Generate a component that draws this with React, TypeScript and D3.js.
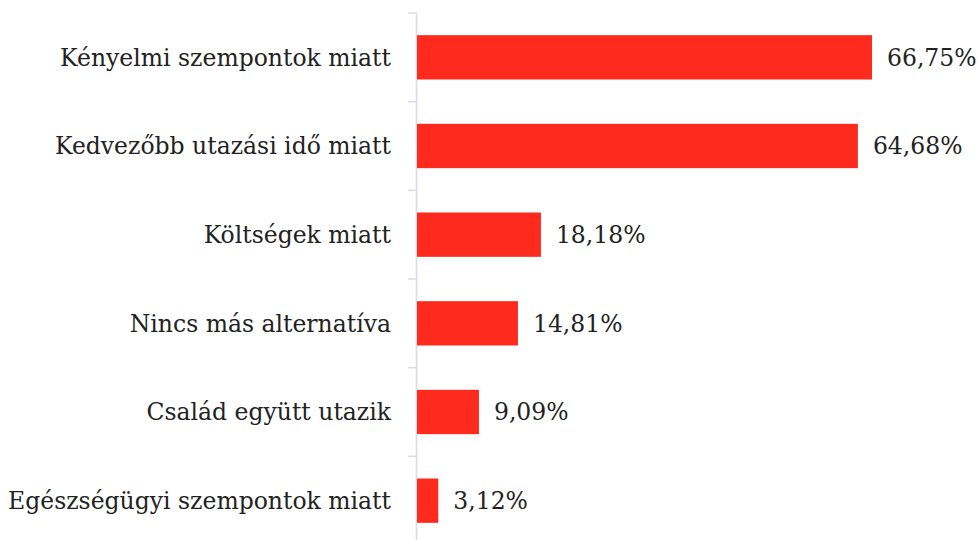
import * as d3 from "d3";
import { useEffect, useRef } from "react";

const categories = [
  "Kényelmi szempontok miatt",
  "Kedvezőbb utazási idő miatt",
  "Költségek miatt",
  "Nincs más alternatíva",
  "Család együtt utazik",
  "Egészségügyi szempontok miatt",
];
const values = [66.75, 64.68, 18.18, 14.81, 9.09, 3.12];

const App = () => {
  const svgRef = useRef<SVGSVGElement>(null);

  useEffect(() => {
    const width = 979;
    const height = 540;
    const left = 417;
    const top = 13;
    const bottom = 545;

    const svg = d3
      .select(svgRef.current)
      .attr("width", width)
      .attr("height", height)
      .style("font-family", "'DejaVu Serif', serif");
    svg.selectAll("*").remove();

    const x = d3.scaleLinear().domain([0, 66.75]).range([left, 872]);
    const y = d3.scaleBand().domain(categories).range([top, bottom]).paddingInner(0.5).paddingOuter(0.25);
    const band = d3.scaleBand().domain(categories).range([top, bottom]);

    // axis line + tick marks at band edges
    const axis = svg.append("g").attr("stroke", "#d9dce4").attr("stroke-width", 1.5);
    axis.append("line").attr("x1", left - 0.5).attr("x2", left - 0.5).attr("y1", top).attr("y2", height);
    axis
      .selectAll("line.tick")
      .data(categories)
      .join("line")
      .attr("class", "tick")
      .attr("x1", left - 9)
      .attr("x2", left - 0.5)
      .attr("y1", (d) => band(d)!)
      .attr("y2", (d) => band(d)!);

    const rows = svg.append("g").selectAll("g").data(categories).join("g");

    rows
      .append("rect")
      .attr("x", left)
      .attr("y", (d) => y(d)!)
      .attr("height", y.bandwidth())
      .attr("width", (d, i) => x(values[i]) - left)
      .attr("fill", "#ff2a1e");

    rows
      .append("text")
      .attr("x", left - 26)
      .attr("y", (d) => y(d)! + y.bandwidth() / 2)
      .attr("dy", "0.35em")
      .attr("text-anchor", "end")
      .attr("font-size", 23.5)
      .attr("fill", "#222")
      .text((d) => d);

    rows
      .append("text")
      .attr("x", (d, i) => x(values[i]) + 15)
      .attr("y", (d) => y(d)! + y.bandwidth() / 2)
      .attr("dy", "0.35em")
      .attr("font-size", 23.5)
      .attr("fill", "#222")
      .text((d, i) => d3.format(".2f")(values[i]).replace(".", ",") + "%");
  }, []);

  return <svg ref={svgRef} style={{ position: "absolute", left: 0, top: 0 }}></svg>;
};

export default App;
